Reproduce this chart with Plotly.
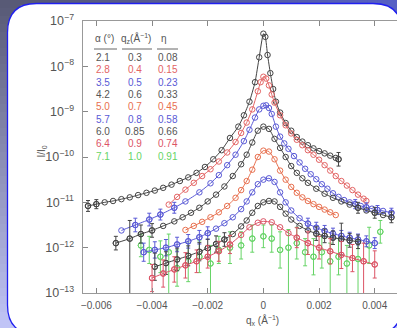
import numpy as np
import plotly.graph_objects as go

# ------------------------------------------------------------------ data
alpha = ["2.1", "2.8", "3.5", "4.2", "5.0", "5.7", "6.0", "6.4", "7.1"]
qz = ["0.3", "0.4", "0.5", "0.6", "0.7", "0.8", "0.85", "0.9", "1.0"]
eta = ["0.08", "0.15", "0.23", "0.33", "0.45", "0.58", "0.66", "0.74", "0.91"]

# each curve: q_x (1/Angstrom), log10(I/I0), error bar size in decades {index: dex}
c1_q = [-0.0063, -0.0060, -0.0057, -0.0054, -0.0051, -0.0048, -0.0045, -0.0042, -0.0039, -0.0036,
        -0.0033, -0.0030, -0.0027, -0.0024, -0.0021, -0.0018, -0.0015, -0.0012, -0.0009, -0.0007,
        -0.0005, -0.0003, -0.00015, 0.0, 0.00007, 0.00015, 0.00025, 0.00035, 0.00045, 0.0006,
        0.0008, 0.001, 0.0012, 0.0014, 0.0016, 0.0018, 0.002, 0.0022, 0.0024, 0.0026, 0.0027]
c1_logI = [-11.08, -11.04, -11.0, -10.97, -10.93, -10.89, -10.84, -10.79, -10.74, -10.68,
           -10.61, -10.53, -10.45, -10.35, -10.22, -10.05, -9.85, -9.58, -9.33, -9.08,
           -8.78, -8.35, -7.8, -7.28, -7.35, -7.75, -8.15, -8.5, -8.78, -9.02,
           -9.25, -9.42, -9.56, -9.66, -9.74, -9.81, -9.87, -9.92, -9.97, -10.02, -10.05]
c1_err = {0: 0.12, 1: 0.1, 40: 0.15}

c2_q = [-0.0034, -0.0031, -0.0028, -0.0025, -0.0022, -0.0019, -0.0016, -0.0013, -0.001, -0.0008,
        -0.0006, -0.0004, -0.0002, -0.0001, 0.0, 0.0001, 0.0002, 0.0003, 0.0004, 0.0006,
        0.0008, 0.001, 0.0012, 0.0014, 0.0016, 0.0018, 0.002, 0.0022, 0.0024, 0.0026,
        0.0028, 0.003, 0.0032, 0.0034, 0.0036, 0.0037]
c2_logI = [-11.05, -10.88, -10.72, -10.57, -10.42, -10.27, -10.1, -9.9, -9.67, -9.47,
           -9.24, -8.95, -8.55, -8.35, -8.23, -8.27, -8.42, -8.62, -8.8, -9.08,
           -9.3, -9.48, -9.62, -9.74, -9.85, -9.95, -10.06, -10.18, -10.3, -10.42,
           -10.53, -10.63, -10.73, -10.83, -10.92, -10.97]
c2_err = {}

c3_q = [-0.0051, -0.0046, -0.0041, -0.0037, -0.0032, -0.0028, -0.0023, -0.0019, -0.0016, -0.0013,
        -0.001, -0.0007, -0.0005, -0.0003, -0.00015, 0.0, 0.0001, 0.0002, 0.0003, 0.00045,
        0.0006, 0.00075, 0.0009, 0.0011, 0.0013, 0.0015, 0.0017, 0.0019, 0.0021, 0.0023,
        0.0025, 0.0027, 0.0029, 0.0031, 0.0033, 0.0035, 0.0037, 0.0039, 0.0041, 0.0043, 0.0046]
c3_logI = [-11.62, -11.5, -11.38, -11.27, -11.12, -10.98, -10.78, -10.58, -10.4, -10.18,
           -9.95, -9.65, -9.4, -9.13, -8.95, -8.87, -8.86, -8.92, -9.05, -9.33,
           -9.55, -9.7, -9.82, -9.98, -10.12, -10.26, -10.38, -10.49, -10.6, -10.7,
           -10.8, -10.88, -10.95, -11.0, -11.04, -11.08, -11.11, -11.14, -11.17, -11.19, -11.23]
c3_err = {1: 0.15, 2: 0.14, 3: 0.12, 4: 0.12, 34: 0.1, 36: 0.1, 38: 0.1, 40: 0.1}

c4_q = [-0.0053, -0.0048, -0.0044, -0.004, -0.0036, -0.0032, -0.0029, -0.0026, -0.0023, -0.002,
        -0.0017, -0.0014, -0.0011, -0.0008, -0.0006, -0.0004, -0.0002, 0.0, 0.0002, 0.0004,
        0.0006, 0.0008, 0.001, 0.0012, 0.0014, 0.0016, 0.0019, 0.0022, 0.0025, 0.0028,
        0.0031, 0.0034, 0.0037, 0.004, 0.0043, 0.0046]
c4_logI = [-11.9, -11.8, -11.7, -11.62, -11.52, -11.42, -11.33, -11.23, -11.12, -10.98,
           -10.83, -10.65, -10.42, -10.16, -9.95, -9.68, -9.42, -9.33, -9.38, -9.6,
           -9.8, -10.0, -10.2, -10.35, -10.47, -10.57, -10.7, -10.81, -10.9, -10.98,
           -11.05, -11.12, -11.18, -11.23, -11.28, -11.33]
c4_err = {0: 0.15, 1: 2.0, 2: 0.2, 3: 0.15, 31: 0.12, 33: 0.12, 35: 0.12}

c5_q = [-0.0028, -0.0025, -0.0022, -0.0019, -0.0016, -0.0013, -0.001, -0.0008, -0.0006, -0.0004,
        -0.0002, 0.0, 0.0002, 0.0004, 0.0006, 0.0008, 0.001, 0.0012, 0.0014, 0.0016,
        0.0018, 0.002, 0.0022, 0.0024, 0.0026]
c5_logI = [-11.61, -11.52, -11.43, -11.33, -11.22, -11.08, -10.9, -10.73, -10.53, -10.28,
           -10.0, -9.86, -9.88, -10.05, -10.3, -10.5, -10.66, -10.79, -10.89, -10.97,
           -11.04, -11.1, -11.16, -11.22, -11.28]
c5_err = {}

c6_q = [-0.0043, -0.0039, -0.0035, -0.0031, -0.0027, -0.0023, -0.002, -0.0017, -0.0014, -0.0011,
        -0.0008, -0.0006, -0.0004, -0.0002, 0.0, 0.0002, 0.0004, 0.0006, 0.0008, 0.001,
        0.0013, 0.0016, 0.0019, 0.0022, 0.0025, 0.0028, 0.0031, 0.0034, 0.0037, 0.004]
c6_logI = [-12.1, -12.05, -12.0, -11.93, -11.86, -11.77, -11.68, -11.58, -11.46, -11.33,
           -11.15, -10.98, -10.78, -10.6, -10.5, -10.47, -10.55, -10.78, -11.0, -11.18,
           -11.35, -11.47, -11.56, -11.63, -11.69, -11.74, -11.78, -11.82, -11.86, -11.9]
c6_err = {0: 0.2, 1: 0.18, 2: 0.18, 3: 0.16, 4: 0.15, 5: 0.15, 6: 0.14,
          21: 0.12, 22: 0.12, 23: 0.12, 24: 0.12, 25: 0.12, 26: 0.12, 27: 0.12, 28: 0.12, 29: 0.12}

c7_q = [-0.0039, -0.0035, -0.0031, -0.0027, -0.0023, -0.002, -0.0017, -0.0014, -0.0011, -0.0008,
        -0.0006, -0.0004, -0.0002, 0.0, 0.0002, 0.0004, 0.0006, 0.0008, 0.001, 0.0013,
        0.0016, 0.0019, 0.0022, 0.0025, 0.0028, 0.0031, 0.0034]
c7_logI = [-12.42, -12.34, -12.26, -12.18, -12.09, -12.01, -11.92, -11.82, -11.7, -11.53,
           -11.4, -11.23, -11.08, -11.0, -10.97, -10.98, -11.1, -11.25, -11.38, -11.52,
           -11.62, -11.69, -11.74, -11.78, -11.81, -11.84, -11.87]
c7_err = {0: 0.3, 1: 0.25, 2: 0.25, 3: 0.22, 4: 0.2, 5: 0.2, 6: 0.18, 7: 0.15,
          21: 0.15, 22: 0.15, 23: 0.15, 24: 0.35, 25: 0.15, 26: 0.15}

c8_q = [-0.004, -0.0036, -0.0032, -0.0028, -0.0024, -0.002, -0.0016, -0.0012, -0.0008, -0.0005,
        -0.0002, 0.0, 0.0003, 0.0006, 0.0009, 0.0012, 0.0016, 0.002, 0.0024, 0.0028,
        0.0032, 0.0036, 0.004]
c8_logI = [-12.67, -12.57, -12.48, -12.39, -12.3, -12.2, -12.08, -11.93, -11.72, -11.55,
           -11.45, -11.42, -11.44, -11.55, -11.68, -11.78, -11.9, -12.0, -12.08, -12.16,
           -12.23, -12.3, -12.37]
c8_err = {0: 0.3, 1: 0.3, 2: 0.28, 3: 0.28, 4: 0.25, 5: 0.25, 6: 0.22, 7: 0.2,
          15: 0.22, 16: 0.25, 17: 0.25, 18: 0.28, 19: 0.3, 20: 0.3, 21: 2.0, 22: 0.3}

c9_q = [-0.0044, -0.0041, -0.0037, -0.0034, -0.0031, -0.0027, -0.0023, -0.0019, -0.0016, -0.0012,
        -0.0008, -0.0004, 0.0, 0.0003, 0.0006, 0.0009, 0.0012, 0.0015, 0.0018, 0.0021,
        0.0024, 0.0027, 0.003, 0.0034, 0.0038, 0.0042]
c9_logI = [-11.95, -12.05, -12.2, -12.1, -12.45, -12.3, -12.2, -12.35, -12.05, -12.0,
           -11.95, -11.8, -11.75, -11.8, -12.05, -12.0, -11.9, -12.1, -12.2, -12.1,
           -12.3, -12.2, -12.35, -12.25, -11.95, -11.65]
c9_err = {0: 0.25, 1: 0.3, 2: 0.35, 3: 2.0, 4: 0.4, 5: 0.45, 6: 0.35, 7: 2.0, 8: 0.3, 9: 0.35,
          10: 0.3, 11: 0.3, 12: 0.25, 13: 0.3, 14: 0.4, 15: 2.0, 16: 0.35, 17: 0.3, 18: 0.4,
          19: 0.35, 20: 2.0, 21: 0.4, 22: 2.0, 23: 2.0, 24: 0.4, 25: 0.25}

# ------------------------------------------------------------------ style
W, H = 397, 328
ML, MR, MT, MB = 83, 0, 21, 35
PW, PH = W - ML - MR, H - MT - MB


def px(x):
    return (x - ML) / PW


def py(y):
    return (H - MB - y) / PH


BLACK = "#444444"
RED = "#e36464"
BLUE = "#5a5ad6"
ORANGE = "#e8704f"
CRIMSON = "#dc5466"
GREEN = "#66d466"
row_colors = ["#555555", RED, BLUE, "#555555", ORANGE, BLUE, "#555555", CRIMSON, GREEN]
FONT = "Liberation Sans"

curves = [
    (c9_q, c9_logI, c9_err, GREEN, False),
    (c1_q, c1_logI, c1_err, BLACK, True),
    (c2_q, c2_logI, c2_err, RED, True),
    (c3_q, c3_logI, c3_err, BLUE, True),
    (c4_q, c4_logI, c4_err, BLACK, True),
    (c5_q, c5_logI, c5_err, ORANGE, True),
    (c6_q, c6_logI, c6_err, BLUE, True),
    (c7_q, c7_logI, c7_err, BLACK, True),
    (c8_q, c8_logI, c8_err, CRIMSON, True),
]

fig = go.Figure()
for q, logI, err, col, has_line in curves:
    q = np.array(q)
    I = np.power(10.0, np.array(logI))
    mk = dict(symbol="circle-open", size=5.5, color=col, line=dict(width=1, color=col))
    fig.add_trace(go.Scatter(
        x=q, y=I, mode="lines+markers" if has_line else "markers",
        line=dict(color=col, width=1, shape="spline", smoothing=0.5),
        marker=mk, hoverinfo="skip"))
    idx = sorted(err)
    if idx:
        e = np.array([err[i] for i in idx])
        Ie = I[idx]
        up = Ie * (np.power(10.0, np.minimum(e, 0.4)) - 1)
        dn = Ie * (1 - np.power(10.0, -e))
        fig.add_trace(go.Scatter(
            x=q[idx], y=Ie, mode="markers", marker=mk, hoverinfo="skip",
            error_y=dict(type="data", symmetric=False, array=up, arrayminus=dn,
                         color=col, thickness=1, width=2)))

# ---------------------------------------------------------------- background
shapes = []
top_c = np.array([88, 90, 118])
bot_c = np.array([192, 196, 246])
n = 41
for i in range(n):
    t = i / (n - 1)
    c = (top_c * (1 - t) + bot_c * t).astype(int)
    y0 = i * H / n
    y1 = (i + 1) * H / n + 0.6
    shapes.append(dict(type="rect", xref="paper", yref="paper", layer="below",
                       x0=px(0), x1=px(W), y0=py(y1), y1=py(y0),
                       fillcolor="rgb(%d,%d,%d)" % tuple(c), line=dict(width=0)))
left_c = np.array([88, 90, 118])
right_c = np.array([86, 96, 196])
m = 37
for i in range(m):
    t = i / (m - 1)
    c = (left_c * (1 - t) + right_c * t).astype(int)
    x0 = 30 + i * (W - 30) / m
    x1 = 30 + (i + 1) * (W - 30) / m + 0.6
    shapes.append(dict(type="rect", xref="paper", yref="paper", layer="below",
                       x0=px(x0), x1=px(x1), y0=py(32), y1=py(0),
                       fillcolor="rgb(%d,%d,%d)" % tuple(c), line=dict(width=0)))


def P(x, y):
    return "%.5f,%.5f" % (px(x), py(y))


L, T, R, B, r = 7.5, 3.5, 402, 334, 29
path = ("M %s Q %s %s L %s Q %s %s L %s Q %s %s L %s Q %s %s Z" % (
    P(L, T + r), P(L, T), P(L + r, T), P(R - r, T), P(R, T), P(R, T + r),
    P(R, B - r), P(R, B), P(R - r, B), P(L + r, B), P(L, B), P(L, B - r)))
shapes.append(dict(type="path", xref="paper", yref="paper", layer="below", path=path,
                   fillcolor="white", line=dict(color="#2020f0", width=1.3)))

# table underlines
for xa, xb in [(94, 117), (122, 152), (157, 178)]:
    shapes.append(dict(type="line", xref="paper", yref="paper", layer="above",
                       x0=px(xa), x1=px(xb), y0=py(49), y1=py(49),
                       line=dict(color="#666", width=1)))

# ---------------------------------------------------------------- annotations
ann = []
heads = ["α (°)", "q<sub>z</sub>(Å<sup>−1</sup>)", "η"]
for hx, txt in zip([104, 136, 164], heads):
    ann.append(dict(x=px(hx), y=py(38.5), xref="paper", yref="paper", text=txt,
                    showarrow=False, xanchor="center", yanchor="middle",
                    font=dict(family=FONT, size=10, color="#555")))
col_x = [102.5, 135, 167.5]
for i in range(len(alpha)):
    yy = 57.5 + i * 12.35
    for cx, txt in zip(col_x, [alpha[i], qz[i], eta[i]]):
        ann.append(dict(x=px(cx), y=py(yy), xref="paper", yref="paper", text=txt,
                        showarrow=False, xanchor="center", yanchor="middle",
                        font=dict(family=FONT, size=10, color=row_colors[i])))
ann.append(dict(x=px(41.5), y=py(152), xref="paper", yref="paper",
                text="I/I<sub>0</sub>", textangle=-90, showarrow=False,
                xanchor="center", yanchor="middle",
                font=dict(family=FONT, size=10, color="#555")))
ann.append(dict(x=px(262), y=py(320), xref="paper", yref="paper",
                text="q<sub>x</sub> (Å<sup>−1</sup>)", showarrow=False,
                xanchor="center", yanchor="middle",
                font=dict(family=FONT, size=10, color="#555")))

fig.update_layout(
    width=W, height=H, margin=dict(l=ML, r=MR, t=MT, b=MB, pad=0),
    paper_bgcolor="#8a8fc4", plot_bgcolor="rgba(0,0,0,0)", showlegend=False,
    font=dict(family=FONT, size=10, color="#555"),
    shapes=shapes, annotations=ann,
)
fig.update_xaxes(range=[-0.00648, 0.0048], tick0=0, dtick=0.002, ticks="inside",
                 ticklen=5, tickcolor="#888", showline=True, linecolor="#999",
                 linewidth=1, mirror="ticks", showgrid=False, zeroline=False,
                 tickfont=dict(family=FONT, size=10, color="#555"),
                 ticklabelstandoff=3, automargin=False)
fig.update_yaxes(type="log", range=[-13, -7], dtick=1, exponentformat="power",
                 ticks="inside", ticklen=5, tickcolor="#888", showline=True,
                 linecolor="#999", linewidth=1, mirror=False, showgrid=False,
                 zeroline=False, tickfont=dict(family=FONT, size=10, color="#555"),
                 ticklabelstandoff=6, automargin=False)

fig.write_html("out.html", config={"displayModeBar": False},
               post_script="document.body.style.margin='0';document.body.style.overflow='hidden';")
